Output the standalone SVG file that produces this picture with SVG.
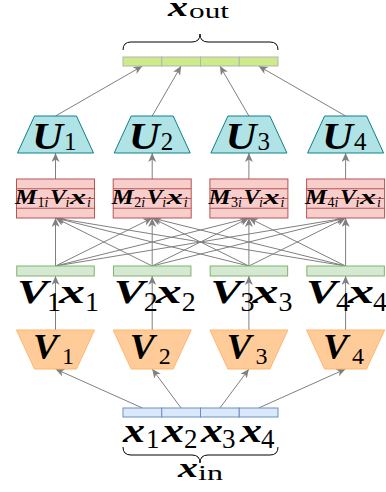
<svg xmlns="http://www.w3.org/2000/svg" width="386" height="492" viewBox="0 0 386 492">
<style>
.c{stroke:#808080;stroke-width:1;fill:none;marker-end:url(#ah)}
.mv{font-family:"Liberation Serif",serif;font-weight:bold;font-style:italic;fill:#000}
.mn{font-family:"Liberation Serif",serif;fill:#000}
.mi{font-family:"Liberation Serif",serif;font-style:italic;fill:#000}
.u{fill:#b0e3e6;stroke:#0e8088;stroke-width:1}
.v{fill:#ffcc99;stroke:#ffb570;stroke-width:1}
.g{fill:#d5e8d4;stroke:#82b366;stroke-width:1}
.r{fill:#f8cecc;stroke:#b85450;stroke-width:1}
.rl{stroke:#b85450;stroke-width:1}
.o{fill:#cdeb8b;stroke:#b3b3b3;stroke-width:1}
.i{fill:#dae8fc;stroke:#6c8ebf;stroke-width:1}
.br{fill:none;stroke:#000;stroke-width:1}
</style>
<defs>
<marker id="ah" markerUnits="userSpaceOnUse" markerWidth="10" markerHeight="9" refX="9" refY="4" orient="auto">
<path d="M0,0 L9,4 L0,8 L2.5,4 Z" fill="#808080"/>
</marker>
</defs>
<g id="connectors">
<line class="c" x1="55.5" y1="116" x2="142.4" y2="66"/>
<line class="c" x1="152.2" y1="116" x2="181.1" y2="66"/>
<line class="c" x1="248.9" y1="116" x2="219.9" y2="66"/>
<line class="c" x1="345.6" y1="116" x2="258.6" y2="66"/>
<line class="c" x1="55.5" y1="179" x2="55.5" y2="153"/>
<line class="c" x1="152.2" y1="179" x2="152.2" y2="153"/>
<line class="c" x1="248.9" y1="179" x2="248.9" y2="153"/>
<line class="c" x1="345.6" y1="179" x2="345.6" y2="153"/>
<line class="c" x1="55.5" y1="266" x2="55.5" y2="218"/>
<line class="c" x1="55.5" y1="266" x2="152.2" y2="218"/>
<line class="c" x1="55.5" y1="266" x2="248.9" y2="218"/>
<line class="c" x1="55.5" y1="266" x2="345.6" y2="218"/>
<line class="c" x1="152.2" y1="266" x2="55.5" y2="218"/>
<line class="c" x1="152.2" y1="266" x2="152.2" y2="218"/>
<line class="c" x1="152.2" y1="266" x2="248.9" y2="218"/>
<line class="c" x1="152.2" y1="266" x2="345.6" y2="218"/>
<line class="c" x1="248.9" y1="266" x2="55.5" y2="218"/>
<line class="c" x1="248.9" y1="266" x2="152.2" y2="218"/>
<line class="c" x1="248.9" y1="266" x2="248.9" y2="218"/>
<line class="c" x1="248.9" y1="266" x2="345.6" y2="218"/>
<line class="c" x1="345.6" y1="266" x2="55.5" y2="218"/>
<line class="c" x1="345.6" y1="266" x2="152.2" y2="218"/>
<line class="c" x1="345.6" y1="266" x2="248.9" y2="218"/>
<line class="c" x1="345.6" y1="266" x2="345.6" y2="218"/>
<line class="c" x1="55.5" y1="330" x2="55.5" y2="276"/>
<line class="c" x1="152.2" y1="330" x2="152.2" y2="276"/>
<line class="c" x1="248.9" y1="330" x2="248.9" y2="276"/>
<line class="c" x1="345.6" y1="330" x2="345.6" y2="276"/>
<line class="c" x1="142.4" y1="408" x2="55.5" y2="369"/>
<line class="c" x1="181.1" y1="408" x2="152.2" y2="369"/>
<line class="c" x1="219.9" y1="408" x2="248.9" y2="369"/>
<line class="c" x1="258.6" y1="408" x2="345.6" y2="369"/>
</g>
<g id="xout">
<rect class="o" x="123" y="57" width="38.75" height="9"/>
<rect class="o" x="161.75" y="57" width="38.75" height="9"/>
<rect class="o" x="200.5" y="57" width="38.75" height="9"/>
<rect class="o" x="239.25" y="57" width="38.75" height="9"/>
<path class="br" d="M123,50 Q123,42 131,42 L192,42 Q200,42 200,34 Q200,42 208,42 L270,42 Q278,42 278,50"/>
<text class="mv" x="168" y="16" font-size="28" textLength="20" lengthAdjust="spacingAndGlyphs">x</text>
<text class="mn" x="189" y="18" font-size="22" textLength="40" lengthAdjust="spacingAndGlyphs">out</text>
</g>
<g id="xin">
<rect class="i" x="123" y="408" width="38.75" height="9"/>
<rect class="i" x="161.75" y="408" width="38.75" height="9"/>
<rect class="i" x="200.5" y="408" width="38.75" height="9"/>
<rect class="i" x="239.25" y="408" width="38.75" height="9"/>
<text class="mv" x="123" y="442" font-size="33" textLength="22" lengthAdjust="spacingAndGlyphs">x</text><text class="mn" x="146" y="448" font-size="27">1</text>
<text class="mv" x="162" y="442" font-size="33" textLength="22" lengthAdjust="spacingAndGlyphs">x</text><text class="mn" x="184" y="448" font-size="27">2</text>
<text class="mv" x="201" y="442" font-size="33" textLength="22" lengthAdjust="spacingAndGlyphs">x</text><text class="mn" x="222" y="448" font-size="27">3</text>
<text class="mv" x="240" y="442" font-size="33" textLength="22" lengthAdjust="spacingAndGlyphs">x</text><text class="mn" x="261" y="448" font-size="27">4</text>
<path class="br" d="M123,447 Q123,455 131,455 L192,455 Q200,455 200,463 Q200,455 208,455 L270,455 Q278,455 278,447"/>
<text class="mv" x="178" y="477" font-size="27" textLength="20" lengthAdjust="spacingAndGlyphs">x</text>
<text class="mn" x="198" y="480" font-size="22" textLength="25" lengthAdjust="spacingAndGlyphs">in</text>
</g>
<g id="U1"><polygon class="u" points="34.5,116 76.5,116 93.5,153 17.5,153"/><text class="mv" x="32" y="149" font-size="38" textLength="31" lengthAdjust="spacingAndGlyphs">U</text><text class="mn" x="64" y="150" font-size="25">1</text></g>
<g id="U2"><polygon class="u" points="131.2,116 173.2,116 190.2,153 114.2,153"/><text class="mv" x="128.7" y="149" font-size="38" textLength="31" lengthAdjust="spacingAndGlyphs">U</text><text class="mn" x="160.7" y="150" font-size="25">2</text></g>
<g id="U3"><polygon class="u" points="227.9,116 269.9,116 286.9,153 210.9,153"/><text class="mv" x="225.4" y="149" font-size="38" textLength="31" lengthAdjust="spacingAndGlyphs">U</text><text class="mn" x="257.4" y="150" font-size="25">3</text></g>
<g id="U4"><polygon class="u" points="324.6,116 366.6,116 383.6,153 307.6,153"/><text class="mv" x="322.1" y="149" font-size="38" textLength="31" lengthAdjust="spacingAndGlyphs">U</text><text class="mn" x="354.1" y="150" font-size="25">4</text></g>
<g id="M1"><rect class="r" x="16.5" y="179" width="78" height="39"/><line class="rl" x1="16.5" y1="188.75" x2="94.5" y2="188.75"/><line class="rl" x1="16.5" y1="198.5" x2="94.5" y2="198.5"/><line class="rl" x1="16.5" y1="208.25" x2="94.5" y2="208.25"/>
<text class="mv" x="15" y="204" font-size="20" textLength="22" lengthAdjust="spacingAndGlyphs">M</text><text class="mn" x="37.5" y="207" font-size="14">1</text><text class="mi" x="44.5" y="207" font-size="14">i</text><text class="mv" x="50" y="204" font-size="20" textLength="16" lengthAdjust="spacingAndGlyphs">V</text><text class="mi" x="65.5" y="207" font-size="14">i</text><text class="mv" x="70" y="204" font-size="20" textLength="16" lengthAdjust="spacingAndGlyphs">x</text><text class="mi" x="87" y="207" font-size="14">i</text></g>
<g id="M2"><rect class="r" x="113.2" y="179" width="78" height="39"/><line class="rl" x1="113.2" y1="188.75" x2="191.2" y2="188.75"/><line class="rl" x1="113.2" y1="198.5" x2="191.2" y2="198.5"/><line class="rl" x1="113.2" y1="208.25" x2="191.2" y2="208.25"/>
<text class="mv" x="111.7" y="204" font-size="20" textLength="22" lengthAdjust="spacingAndGlyphs">M</text><text class="mn" x="134.2" y="207" font-size="14">2</text><text class="mi" x="141.2" y="207" font-size="14">i</text><text class="mv" x="146.7" y="204" font-size="20" textLength="16" lengthAdjust="spacingAndGlyphs">V</text><text class="mi" x="162.2" y="207" font-size="14">i</text><text class="mv" x="166.7" y="204" font-size="20" textLength="16" lengthAdjust="spacingAndGlyphs">x</text><text class="mi" x="183.7" y="207" font-size="14">i</text></g>
<g id="M3"><rect class="r" x="209.9" y="179" width="78" height="39"/><line class="rl" x1="209.9" y1="188.75" x2="287.9" y2="188.75"/><line class="rl" x1="209.9" y1="198.5" x2="287.9" y2="198.5"/><line class="rl" x1="209.9" y1="208.25" x2="287.9" y2="208.25"/>
<text class="mv" x="208.4" y="204" font-size="20" textLength="22" lengthAdjust="spacingAndGlyphs">M</text><text class="mn" x="230.9" y="207" font-size="14">3</text><text class="mi" x="237.9" y="207" font-size="14">i</text><text class="mv" x="243.4" y="204" font-size="20" textLength="16" lengthAdjust="spacingAndGlyphs">V</text><text class="mi" x="258.9" y="207" font-size="14">i</text><text class="mv" x="263.4" y="204" font-size="20" textLength="16" lengthAdjust="spacingAndGlyphs">x</text><text class="mi" x="280.4" y="207" font-size="14">i</text></g>
<g id="M4"><rect class="r" x="306.6" y="179" width="78" height="39"/><line class="rl" x1="306.6" y1="188.75" x2="384.6" y2="188.75"/><line class="rl" x1="306.6" y1="198.5" x2="384.6" y2="198.5"/><line class="rl" x1="306.6" y1="208.25" x2="384.6" y2="208.25"/>
<text class="mv" x="305.1" y="204" font-size="20" textLength="22" lengthAdjust="spacingAndGlyphs">M</text><text class="mn" x="327.6" y="207" font-size="14">4</text><text class="mi" x="334.6" y="207" font-size="14">i</text><text class="mv" x="340.1" y="204" font-size="20" textLength="16" lengthAdjust="spacingAndGlyphs">V</text><text class="mi" x="355.6" y="207" font-size="14">i</text><text class="mv" x="360.1" y="204" font-size="20" textLength="16" lengthAdjust="spacingAndGlyphs">x</text><text class="mi" x="377.1" y="207" font-size="14">i</text></g>
<g id="Vx1"><rect class="g" x="16.75" y="266" width="77.5" height="10"/><text class="mv" x="17" y="303" font-size="34" textLength="31" lengthAdjust="spacingAndGlyphs">V</text><text class="mn" x="47" y="311" font-size="28">1</text><text class="mv" x="59" y="303" font-size="34" textLength="26" lengthAdjust="spacingAndGlyphs">x</text><text class="mn" x="85" y="311" font-size="28">1</text></g>
<g id="Vx2"><rect class="g" x="113.45" y="266" width="77.5" height="10"/><text class="mv" x="113.7" y="303" font-size="34" textLength="31" lengthAdjust="spacingAndGlyphs">V</text><text class="mn" x="143.7" y="311" font-size="28">2</text><text class="mv" x="155.7" y="303" font-size="34" textLength="26" lengthAdjust="spacingAndGlyphs">x</text><text class="mn" x="181.7" y="311" font-size="28">2</text></g>
<g id="Vx3"><rect class="g" x="210.15" y="266" width="77.5" height="10"/><text class="mv" x="210.4" y="303" font-size="34" textLength="31" lengthAdjust="spacingAndGlyphs">V</text><text class="mn" x="240.4" y="311" font-size="28">3</text><text class="mv" x="252.4" y="303" font-size="34" textLength="26" lengthAdjust="spacingAndGlyphs">x</text><text class="mn" x="278.4" y="311" font-size="28">3</text></g>
<g id="Vx4"><rect class="g" x="306.85" y="266" width="77.5" height="10"/><text class="mv" x="306" y="303" font-size="34" textLength="31" lengthAdjust="spacingAndGlyphs">V</text><text class="mn" x="336" y="311" font-size="28">4</text><text class="mv" x="348" y="303" font-size="34" textLength="26" lengthAdjust="spacingAndGlyphs">x</text><text class="mn" x="373" y="311" font-size="28">4</text></g>
<g id="V1"><polygon class="v" points="16.5,330 94.5,330 76.5,369 34.5,369"/><text class="mv" x="33" y="359" font-size="36" textLength="25" lengthAdjust="spacingAndGlyphs">V</text><text class="mn" x="62" y="364" font-size="24">1</text></g>
<g id="V2"><polygon class="v" points="113.2,330 191.2,330 173.2,369 131.2,369"/><text class="mv" x="129.7" y="359" font-size="36" textLength="25" lengthAdjust="spacingAndGlyphs">V</text><text class="mn" x="158.7" y="364" font-size="24">2</text></g>
<g id="V3"><polygon class="v" points="209.9,330 287.9,330 269.9,369 227.9,369"/><text class="mv" x="226.4" y="359" font-size="36" textLength="25" lengthAdjust="spacingAndGlyphs">V</text><text class="mn" x="255.4" y="364" font-size="24">3</text></g>
<g id="V4"><polygon class="v" points="306.6,330 384.6,330 366.6,369 324.6,369"/><text class="mv" x="323.1" y="359" font-size="36" textLength="25" lengthAdjust="spacingAndGlyphs">V</text><text class="mn" x="352.1" y="364" font-size="24">4</text></g>
</svg>
